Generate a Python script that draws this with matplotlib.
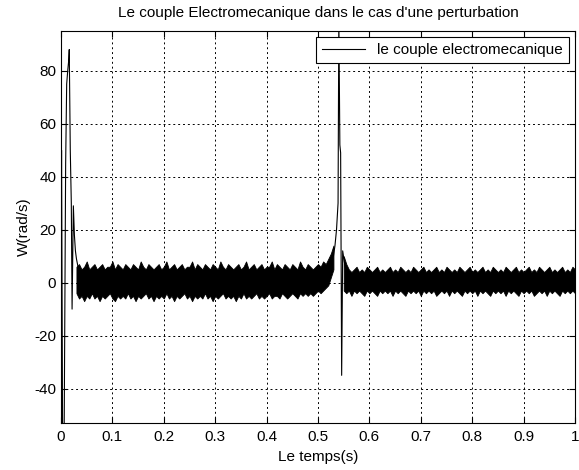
import numpy as np
import matplotlib
matplotlib.use("Agg")
import matplotlib.pyplot as plt

plt.rcParams["font.family"] = ["Liberation Sans", "DejaVu Sans"]
plt.rcParams["axes.unicode_minus"] = False

# demarrage (transitoire initial)
t_start = [0.0, 0.001, 0.003, 0.006, 0.009, 0.011, 0.013, 0.015, 0.016, 0.018,
           0.020, 0.0215, 0.024, 0.026, 0.028, 0.030, 0.033]
w_start = [0, 50, -58, -60, 45, 75, 80, 84, 88, 50,
           30, -10, 29, 18, 12, 9, 6]

# bande de bruit 0.03 -> 0.53 (enveloppe lue sur la figure, pas 0.005 s)
t_band1 = np.linspace(0.03, 0.53, 101)
up_band1 = [6, 7, 5, 6, 8, 5, 6, 7, 5, 6, 7, 5, 6, 6, 8, 5, 7, 6, 5, 7,
            6, 5, 7, 6, 5, 8, 6, 5, 7, 6, 5, 6, 7, 5, 6, 8, 5, 6, 7, 5,
            6, 7, 5, 6, 6, 8, 5, 7, 6, 5, 7, 6, 5, 7, 6, 5, 8, 6, 5, 7,
            6, 5, 6, 7, 5, 6, 8, 5, 6, 7, 5, 6, 7, 5, 6, 6, 8, 5, 7, 6,
            5, 7, 6, 5, 7, 6, 5, 8, 6, 5, 7, 6, 5, 6, 7, 6, 8, 7, 9, 11, 14]
lo_band1 = [-4, -6, -5, -7, -5, -6, -4, -6, -5, -7, -5, -6, -5, -4, -6, -7, -5, -6, -5, -6,
            -4, -6, -5, -7, -5, -6, -5, -4, -6, -5, -7, -5, -6, -5, -6, -4, -6, -5, -7, -5,
            -6, -5, -4, -6, -5, -7, -5, -6, -5, -6, -4, -6, -5, -7, -5, -6, -5, -4, -6, -5,
            -6, -5, -7, -5, -6, -4, -6, -5, -6, -5, -4, -6, -5, -6, -5, -4, -6, -5, -5, -6,
            -4, -5, -6, -5, -4, -5, -6, -4, -5, -4, -5, -4, -5, -4, -3, -4, -3, -2, -1, 2, 5]

# perturbation vers t = 0.54 s
t_pert = [0.530, 0.533, 0.536, 0.539, 0.5405, 0.5425, 0.544, 0.546, 0.548, 0.551, 0.555]
w_pert = [10, 14, 20, 30, 100, 52, 49, -35, 12, 8, 4]

# bande de bruit apres la perturbation
t_band2 = np.linspace(0.55, 1.0, 91)
up_band2 = [10, 7, 5, 4, 5, 6, 4, 5, 4, 6, 5, 4, 5, 6, 4, 5, 4, 5, 6, 4,
            5, 4, 6, 5, 4, 5, 4, 6, 5, 4, 5, 6, 4, 5, 4, 5, 6, 4, 5, 4,
            6, 5, 4, 5, 4, 6, 5, 4, 5, 6, 4, 5, 4, 5, 6, 4, 5, 4, 6, 5,
            4, 5, 4, 6, 5, 4, 5, 6, 4, 5, 4, 5, 6, 4, 5, 4, 6, 5, 4, 5,
            6, 4, 5, 4, 5, 6, 4, 5, 4, 6, 5]
lo_band2 = [-3, -4, -3, -5, -3, -4, -3, -4, -5, -3, -4, -3, -4, -5, -3, -4, -3, -4, -3, -5,
            -3, -4, -3, -4, -5, -3, -4, -3, -4, -3, -5, -3, -4, -3, -4, -3, -5, -4, -3, -4,
            -3, -5, -3, -4, -3, -4, -5, -3, -4, -3, -4, -3, -5, -3, -4, -3, -4, -5, -3, -4,
            -3, -4, -3, -5, -3, -4, -3, -4, -5, -3, -4, -3, -4, -3, -5, -4, -3, -4, -3, -5,
            -3, -4, -3, -4, -5, -3, -4, -3, -4, -3, -4]

fig = plt.figure(figsize=(5.79, 4.70), dpi=100)
ax = fig.add_axes([0.1054, 0.100, 0.8877, 0.834])

line, = ax.plot(t_start, w_start, color="black", lw=0.8, label="le couple electromecanique")
ax.fill_between(t_band1, lo_band1, up_band1, color="black", lw=0.6)
ax.plot(t_pert, w_pert, color="black", lw=0.8)
ax.fill_between(t_band2, lo_band2, up_band2, color="black", lw=0.6)

ax.set_xlim(0, 1)
ax.set_ylim(-53, 95)
ax.set_xticks(np.arange(0, 1.01, 0.1))
ax.set_xticklabels(["0", "0.1", "0.2", "0.3", "0.4", "0.5", "0.6", "0.7", "0.8", "0.9", "1"])
ax.set_yticks([-40, -20, 0, 20, 40, 60, 80])
ax.grid(True, color="black", linestyle=(0, (2, 3)), lw=0.7)
ax.tick_params(direction="in", length=4, top=True, right=True, labelsize=11)
ax.tick_params(axis="x", pad=5)
for s in ax.spines.values():
    s.set_linewidth(0.8)

ax.set_title("Le couple Electromecanique dans le cas d'une perturbation", fontsize=11, pad=10)
ax.set_xlabel("Le temps(s)", fontsize=11, labelpad=4)
ax.set_ylabel("W(rad/s)", fontsize=11, labelpad=2)

leg = ax.legend(handles=[line], loc="upper right", fontsize=11, fancybox=False,
                framealpha=1, edgecolor="black", handlelength=2.8, borderaxespad=0.4)
leg.get_frame().set_linewidth(0.8)

fig.savefig("out.png", dpi=100)
